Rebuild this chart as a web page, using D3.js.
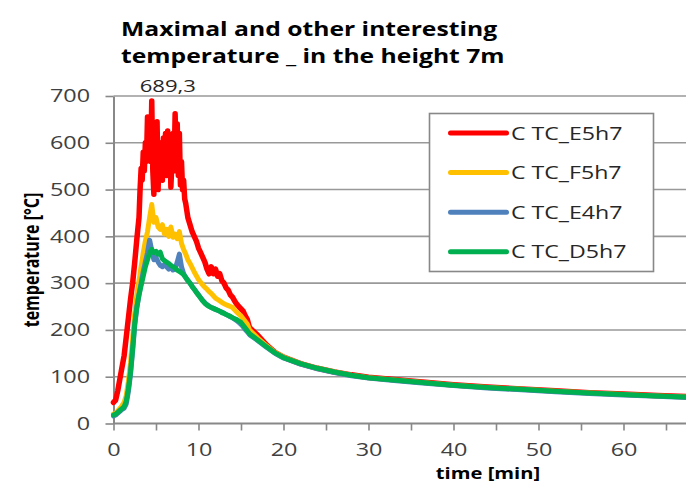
<!DOCTYPE html>
<html>
<head>
<meta charset="utf-8">
<script src="https://cdn.jsdelivr.net/npm/d3@7"></script>
<style>
  body { margin: 0; background: #fff; }
  svg { display: block; font-family: "Open Sans", sans-serif; }
</style>
</head>
<body>
<svg id="chart"></svg>
<script>
// time axis in minutes (dense around the peak, sparse in the cooling tail)
const timeMin = [0,0.25,0.5,0.75,1,1.25,1.5,1.75,2,2.25,2.5,2.75,3,3.25,3.5,3.75,4,4.25,4.5,4.75,5,5.25,5.5,5.75,6,6.25,6.5,6.75,7,7.25,7.5,7.75,8,8.25,8.5,8.75,9,9.25,9.5,9.75,10,10.25,10.5,10.75,11,11.25,11.5,11.75,12,12.25,12.5,12.75,13,13.25,13.5,13.75,14,14.25,14.5,14.75,15,15.25,15.5,15.75,16,
  17,18,19,20,22,24,26,28,30,33,36,40,44,48,52,56,60,64,68];
// the red sensor oscillates fast around the peak, so it is read finer there
const timeRed = [0,0.25,0.5,0.75,1,1.25,1.5,1.75,2,2.25,2.5,2.75,
  3,3.125,3.25,3.375,3.5,3.625,3.75,3.875,4,4.125,4.25,4.375,4.5,4.625,4.75,4.875,5,5.125,5.25,5.375,5.5,5.625,5.75,5.875,6,6.125,6.25,6.375,6.5,6.625,6.75,6.875,7,7.125,7.25,7.375,7.5,7.625,7.75,7.875,8,8.125,8.25,8.375,8.5,
  8.75,9,9.25,9.5,9.75,10,10.25,10.5,10.75,11,11.25,11.5,11.75,12,12.25,12.5,12.75,13,13.25,13.5,13.75,14,14.25,14.5,14.75,15,15.25,15.5,15.75,16,
  17,18,19,20,22,24,26,28,30,33,36,40,44,48,52,56,60,64,68];

const tcE5h7 = [45,50,70,95,120,145,185,225,265,300,345,395,
  440,500,545,520,580,540,600,560,655,570,640,560,689.3,540,490,630,520,645,500,600,540,580,520,610,560,620,530,625,560,600,505,560,620,540,662,560,640,530,620,510,560,500,520,480,470,
  440,425,410,400,390,375,365,355,345,330,320,335,320,330,315,320,305,300,290,285,275,270,262,255,250,245,240,230,222,205,
  188,168,152,142,128,118,110,104,99,94,89,83,78,74,70,66,63,60,57];
const tcF5h7 = [20,22,27,32,38,45,60,90,130,180,235,275,305,335,365,390,410,440,468,430,440,420,415,425,405,415,400,420,398,405,395,410,385,372,362,350,342,333,324,316,308,302,296,291,287,282,278,273,268,265,262,259,256,254,252,250,248,243,238,234,230,224,218,212,200,
  182,166,152,142,128,118,110,103,98,93,88,82,77,73,69,65,62,59,56];
const tcE4h7 = [16,18,22,26,30,33,42,68,105,155,210,248,275,300,325,345,365,392,370,350,355,345,338,335,340,335,330,335,328,330,345,362,335,320,312,306,300,293,287,281,275,269,263,258,254,251,248,246,244,242,240,238,236,233,231,228,226,223,220,216,212,207,201,196,190,
  177,163,150,140,127,117,109,102,97,92,87,81,76,72,68,64,61,58,55];
const tcD5h7 = [18,20,24,28,32,36,48,75,110,160,215,250,275,295,315,335,350,365,372,365,368,362,366,352,348,345,342,338,335,332,328,325,322,318,312,305,300,293,287,280,274,268,262,257,253,250,248,246,244,242,240,237,235,233,231,229,226,224,222,219,216,210,204,198,192,
  178,164,151,141,128,118,110,103,98,93,88,82,77,73,69,65,62,59,56];

const seriesNames = ["C TC_E5h7", "C TC_F5h7", "C TC_E4h7", "C TC_D5h7"];
const seriesColors = ["#ff0000", "#ffc000", "#4f81bd", "#00b050"];
const seriesValues = [tcE5h7, tcF5h7, tcE4h7, tcD5h7];
const seriesTimes = [timeRed, timeMin, timeMin, timeMin];

const yTicks = [0,100,200,300,400,500,600,700];
const xTicks = [0,5,10,15,20,25,30,35,40,45,50,55,60,65];
const xLabels = [0,10,20,30,40,50,60];
const peakLabel = "689,3";

const W = 686, H = 483;
const sx = 1.3; // the picture is stretched sideways

const svg = d3.select("#chart").attr("width", W).attr("height", H);
svg.append("rect").attr("width", W).attr("height", H).attr("fill", "#fff");

const x = d3.scaleLinear().domain([0, 70]).range([113.5, 708.5]);
const y = d3.scaleLinear().domain([0, 700]).range([423.5, 96]);

// horizontal gridlines
svg.append("g")
  .selectAll("line")
  .data(yTicks.filter(d => d > 0))
  .join("line")
  .attr("x1", x(0)).attr("x2", W)
  .attr("y1", d => y(d)).attr("y2", d => y(d))
  .attr("stroke", "#999").attr("stroke-width", 1.6);

// y axis
const yAxis = svg.append("g")
  .attr("transform", `translate(${x(0)},0)`)
  .call(d3.axisLeft(y).tickValues(yTicks).tickSize(8).tickSizeOuter(0));
yAxis.select(".domain").attr("stroke", "#888").attr("stroke-width", 2);
yAxis.selectAll(".tick line").attr("stroke", "#888").attr("stroke-width", 1.6);
yAxis.selectAll(".tick text")
  .attr("x", -23.5 / sx)
  .attr("transform", `scale(${sx},1)`)
  .attr("font-size", 18).attr("font-family", "Open Sans").attr("fill", "#404040");

// x axis
const xAxis = svg.append("g")
  .attr("transform", `translate(0,${y(0)})`)
  .call(d3.axisBottom(x).tickValues(xTicks).tickSize(7).tickSizeOuter(0)
    .tickFormat(d => xLabels.includes(d) ? d : ""));
xAxis.select(".domain").attr("stroke", "#888").attr("stroke-width", 2).attr("d", `M${x(0)},0H${W}`);
xAxis.selectAll(".tick line").attr("stroke", "#888").attr("stroke-width", 1.6);
xAxis.selectAll(".tick text")
  .attr("y", 20)
  .attr("transform", `scale(${sx},1)`)
  .attr("font-size", 18).attr("font-family", "Open Sans").attr("fill", "#404040");

// series
const plot = svg.append("g");
seriesValues.forEach((vals, k) => {
  const tt = seriesTimes[k];
  const line = d3.line()
    .x((d, i) => x(tt[i]))
    .y(d => y(d));
  plot.append("path")
    .datum(vals)
    .attr("fill", "none")
    .attr("stroke", seriesColors[k])
    .attr("stroke-width", k === 0 ? 5.5 : 5)
    .attr("stroke-linejoin", "round")
    .attr("stroke-linecap", "round")
    .attr("d", line);
});

// peak label
const peakI = tcE5h7.indexOf(d3.max(tcE5h7));
svg.append("text")
  .attr("transform", `translate(${x(timeRed[peakI]) + 16},92) scale(${sx},1)`)
  .attr("text-anchor", "middle")
  .attr("font-size", 17).attr("fill", "#262626")
  .text(peakLabel);

// legend
const lg = svg.append("g").attr("transform", "translate(429.5,113.5)");
lg.append("rect").attr("width", 224).attr("height", 158)
  .attr("fill", "#fff").attr("stroke", "#888").attr("stroke-width", 1.6);
seriesNames.forEach((name, k) => {
  const yy = 19.5 + k * 39.6;
  lg.append("line").attr("x1", 21).attr("x2", 77).attr("y1", yy).attr("y2", yy)
    .attr("stroke", seriesColors[k]).attr("stroke-width", 5).attr("stroke-linecap", "round");
  lg.append("text")
    .attr("transform", `translate(81.5,${yy + 6.5}) scale(${sx - 0.05},1)`)
    .attr("font-size", 18.5).attr("fill", "#262626")
    .text(name);
});

// titles
const title = svg.append("text")
  .attr("transform", `translate(121,0) scale(${sx},1)`)
  .attr("font-size", 19).attr("font-weight", "bold").attr("fill", "#000");
title.append("tspan").attr("x", 0).attr("y", 36).text("Maximal and other interesting");
title.append("tspan").attr("x", 0).attr("y", 63).text("temperature _ in the height 7m");

svg.append("text")
  .attr("transform", `translate(488,478.5) scale(${sx},1)`)
  .attr("text-anchor", "middle")
  .attr("font-size", 15.5).attr("font-weight", "bold").attr("fill", "#000")
  .text("time [min]");

svg.append("text")
  .attr("transform", `translate(39,260) scale(${sx},1) rotate(-90)`)
  .attr("text-anchor", "middle")
  .attr("font-size", 16).attr("font-weight", "bold").attr("fill", "#000")
  .text("temperature [°C]");
</script>
</body>
</html>
